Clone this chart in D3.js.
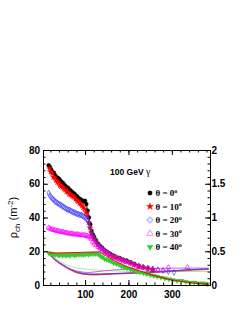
<!DOCTYPE html>
<html>
<head>
<meta charset="utf-8">
<script src="https://cdn.jsdelivr.net/npm/d3@7"></script>
<style>
  body { margin: 0; background: #fff; }
  svg { display: block; }
  .tk text { font-family: "Liberation Sans", Arial, sans-serif; font-weight: bold; font-size: 10px; fill: #000; }
</style>
</head>
<body>
<div id="root"></div>
<script>
// ---- data ----
// theta = 0 deg, black circles
const r0 = [16,19,22,25,28,31,34,37,40,43,46,49,52,55,58,61,64,67,70,73,76,79,82,85,88,91,94,97,100,103,106,109,112,115,118,121,125,130,135,140,146,152,158,165,172,180,188,196,205,214,224,234,245,256];
const rho0 = [71,70,68.5,67,66.5,65,64,63.5,63,62,61,60.5,59.5,58.5,58,57.5,56.5,56,55,54.5,54,53,52.5,51.5,51,50.5,50,49.5,50,48,44,40,36,32,30,28.5,26.5,24.5,23,22,20.5,19.5,18.5,17.5,16.5,16,15,14.5,13.5,12.5,11.5,10.5,10,9];
// theta = 10 deg, red stars
const r10 = [18,21,24,27,30,33,36,39,42,45,48,51,54,57,60,63,66,69,72,75,78,81,84,87,90,93,96,99,102,105,108,111,114,117,120,124,129,134,139,145,151,157,164,171,179,187,195,204,213,223,233,244,255];
const rho10 = [69,67,66,64,63.5,62,61,60.5,59,58.5,58,57,56.5,55.5,55,54,53.5,53,52.5,52,51,50,49.5,48.5,48,47,46,45,43,41,37,34,31,29,27.5,26,24,22.5,21.5,20,19,18,17,16.5,15.5,14.5,14,13,12,11,10.5,9.5,9];
// theta = 20 deg, blue open markers
const r20 = [16,19,22,25,28,31,34,37,40,43,46,49,52,55,58,61,64,67,70,73,76,79,82,85,88,91,94,97,100,103,106,109,112,115,118,121,125,130,135,140,146,152,158,165,172,180,188,196,205,214,224,234,245,256,268,280,292,305];
const rho20 = [54.5,53,52,51,50.5,49.5,49,48.5,48,47.5,47,46.5,46,45.5,45,44.5,44.5,44,43.5,43,43,42.5,42,42,41.5,41.5,41,40.5,40,39.5,38.5,37,34,31,29,27.5,26,24,22.5,21.5,20,19,18,17,16,15.5,14.5,14,13,12,11,10.5,10,9.5,9,8.5,8,7.5];
// theta = 30 deg, magenta open triangles
const r30 = [16,19,22,25,28,31,34,37,40,43,46,49,52,55,58,61,64,67,70,73,76,79,82,85,88,91,94,97,100,103,106,109,112,115,118,121,125,130,135,140,146,152,158,165,172,180,188,196,205,214,224,234,245,256,268,280,292,336];
const rho30 = [34,33.5,33,33,32.5,32.5,32,32,32,31.5,31.5,31.5,31,31,31,30.5,30.5,30.5,30.5,30,30,30,30,30,29.5,29.5,29.5,29.5,29.5,29,29,28.5,28,27,25.5,24.5,23.5,22.5,21.5,20.5,19.5,18.5,17.5,16.5,16,15,14.5,13.5,13,12,11,10.5,10,9.5,9,8.5,10.5,10.5];
// theta = 40 deg, green down triangles
const r40 = [16,20,24,28,32,36,40,44,48,52,56,60,64,68,72,76,80,84,88,92,96,100,104,108,112,116,120,124,128,132,136,140,145,150,155,160,166,172,178,184,190,197,204,211,218,226,234,242,250,258,266,275,284,293,302,312,322,332,342,352,362,372,382];
const rho40 = [19,18.5,18.5,18,18,18,17.5,18,17.5,18,17.5,18,17.5,18,18,17.5,18,18,18,18,18,18,18.5,18,18.5,18.5,18.5,18.5,18.5,18,17,16.5,15.5,15,14.5,14,13,12.5,12,11,10.5,10,9.5,8.5,8,7.5,7,6.5,6,5.5,5,4.5,4,3.5,3,2.5,2.5,2,1.5,1.5,1,1,0.5];

// red line over the 40 deg points
const rFit = [16,40,70,100,134,150,170,200,230,260,290,320,350,385];
const rhoFit = [19,19,19.2,19.4,19.6,17,14,10.5,8,5.5,3.5,2.2,1.2,0.3];

// fluctuation curves (right axis)
const rS = [16,22,30,40,50,60,70,80,95,110,130,160,200,250,300,350,385];
const s0 = [0.47,0.43,0.38,0.33,0.29,0.25,0.22,0.19,0.165,0.155,0.155,0.165,0.175,0.19,0.21,0.23,0.24];
const s10 = [0.46,0.42,0.37,0.32,0.28,0.24,0.21,0.18,0.16,0.15,0.15,0.16,0.17,0.18,0.2,0.22,0.23];
const s20 = [0.47,0.43,0.38,0.33,0.29,0.25,0.22,0.2,0.175,0.165,0.165,0.17,0.18,0.19,0.21,0.23,0.24];
const s30 = [0.48,0.44,0.39,0.34,0.3,0.26,0.23,0.21,0.19,0.185,0.2,0.22,0.235,0.245,0.25,0.25,0.25];
const s40 = [0.48,0.45,0.41,0.36,0.32,0.29,0.27,0.25,0.24,0.23,0.22,0.21,0.2,0.2,0.2,0.2,0.2];

const legendLabels = ['0', '10', '20', '30', '40'];

// ---- chart ----
const w = 247, h = 319;
const pLeft = 43, pRight = 210, pTop = 150, pBottom = 285;

const svg = d3.select('#root').append('svg').attr('width', w).attr('height', h);

const x = d3.scaleLinear().domain([3, 388]).range([pLeft, pRight]);
const y = d3.scaleLinear().domain([0, 80]).range([pBottom, pTop]);
const yR = d3.scaleLinear().domain([0, 2]).range([pBottom, pTop]);

const colors = ['#000000', '#ff0000', '#3b3bff', '#ff00ff', '#33cc33'];

// fluctuation lines
const sLine = d3.line().x((d, i) => x(rS[i])).y(d => yR(d));
[[s40, '#88e888'], [s0, '#222'], [s10, '#ff2020'], [s20, '#4040ff'], [s30, '#cc33dd']].forEach(([s, c]) => {
    svg.append('path').datum(s).attr('d', sLine)
        .attr('fill', 'none').attr('stroke', c).attr('stroke-width', 0.8);
});

// marker series
function sym(type, size) { return d3.symbol().type(type).size(size)(); }
const series = [
    { r: r0, v: rho0, col: colors[0], shape: sym(d3.symbolCircle, 12), fill: true },
    { r: r10, v: rho10, col: colors[1], shape: sym(d3.symbolStar, 11), fill: true },
    { r: r20, v: rho20, col: colors[2], shape: sym(d3.symbolDiamond, 10), fill: false },
    { r: r30, v: rho30, col: colors[3], shape: sym(d3.symbolTriangle, 10), fill: false },
    { r: r40, v: rho40, col: colors[4], shape: sym(d3.symbolTriangle, 11), fill: true, flip: true }
];
const legShapes = [
    sym(d3.symbolCircle, 16), sym(d3.symbolStar, 16), sym(d3.symbolCross, 18),
    sym(d3.symbolTriangle, 18), sym(d3.symbolTriangle, 16)
];
const legColors = ['#000', '#ff0000', '#9999ff', '#ff66ff', '#33cc33'];

// green band line first
const line = d3.line().x(d => x(d[0])).y(d => y(d[1]));
svg.append('path').datum(d3.zip(r40, rho40)).attr('d', line)
    .attr('fill', 'none').attr('stroke', '#44cc44').attr('stroke-width', 2.4);

series.forEach((s, k) => {
    if (k === 0) {
        svg.append('path').datum(d3.zip(s.r, s.v)).attr('d', line)
            .attr('fill', 'none').attr('stroke', '#000').attr('stroke-width', 0.8);
    }
    svg.append('g').selectAll('path')
        .data(d3.zip(s.r, s.v))
        .join('path')
        .attr('d', s.shape)
        .attr('transform', d => `translate(${x(d[0])},${y(d[1])})` + (s.flip ? ' rotate(180)' : ''))
        .attr('fill', s.fill ? s.col : 'none')
        .attr('stroke', s.col)
        .attr('stroke-width', s.fill ? 0.3 : 0.7);
});

// red line on the 40 deg points
svg.append('path').datum(d3.zip(rFit, rhoFit)).attr('d', line)
    .attr('fill', 'none').attr('stroke', '#ff0000').attr('stroke-width', 1);

// ---- axes ----
function ax(g) { g.attr('class', 'tk'); g.selectAll('line').attr('stroke', '#000'); g.select('.domain').attr('stroke', '#000'); }

svg.append('g').attr('transform', `translate(0,${pBottom})`)
    .call(d3.axisBottom(x).tickValues(d3.range(20, 388, 20)).tickSize(-2.5).tickSizeOuter(0).tickFormat(''));
svg.append('g').attr('transform', `translate(0,${pBottom})`)
    .call(d3.axisBottom(x).tickValues([100, 200, 300]).tickSize(-5).tickSizeOuter(0).tickPadding(6))
    .call(ax);
svg.append('g').attr('transform', `translate(0,${pTop})`)
    .call(d3.axisTop(x).tickValues(d3.range(20, 388, 20)).tickSize(-2.5).tickSizeOuter(0).tickFormat(''));
svg.append('g').attr('transform', `translate(0,${pTop})`)
    .call(d3.axisTop(x).tickValues([100, 200, 300]).tickSize(-5).tickSizeOuter(0).tickFormat(''));

svg.append('g').attr('transform', `translate(${pLeft},0)`)
    .call(d3.axisLeft(y).tickValues(d3.range(0, 81, 4)).tickSize(-2.5).tickSizeOuter(0).tickFormat(''));
svg.append('g').attr('transform', `translate(${pLeft},0)`)
    .call(d3.axisLeft(y).tickValues([0, 20, 40, 60, 80]).tickSize(-5).tickSizeOuter(0).tickPadding(3))
    .call(ax);

svg.append('g').attr('transform', `translate(${pRight},0)`)
    .call(d3.axisRight(yR).tickValues(d3.range(0, 2.01, 0.1)).tickSize(-2.5).tickSizeOuter(0).tickFormat(''));
svg.append('g').attr('transform', `translate(${pRight},0)`)
    .call(d3.axisRight(yR).tickValues([0, 0.5, 1, 1.5, 2]).tickSize(-5).tickSizeOuter(0).tickPadding(1.5).tickFormat(d3.format('')))
    .call(ax);

// y title
const yt = svg.append('text')
    .attr('transform', `translate(17,${(pTop + pBottom) / 2}) rotate(-90)`)
    .attr('text-anchor', 'middle')
    .style('font-family', '"Liberation Sans", Arial, sans-serif')
    .style('font-size', '11px');
yt.append('tspan').text('ρ');
yt.append('tspan').attr('dy', 3).style('font-size', '8px').text('ch');
yt.append('tspan').attr('dy', -3).text(' (m');
yt.append('tspan').attr('dy', -4).style('font-size', '8px').text('-2');
yt.append('tspan').attr('dy', 4).text(')');

// title
const tt = svg.append('text').attr('x', 110).attr('y', 175)
    .style('font-family', '"Liberation Sans", Arial, sans-serif')
    .style('font-weight', 'bold').style('font-size', '8.5px');
tt.append('tspan').text('100 GeV ');
tt.append('tspan').style('font-family', '"Liberation Serif", serif').style('font-weight', 'normal').style('font-size', '10px').text('γ');

// legend
const legY = [193, 206.5, 220, 233.5, 247];
series.forEach((s, k) => {
    svg.append('path').attr('d', legShapes[k])
        .attr('transform', `translate(150,${legY[k]})` + (s.flip ? ' rotate(180)' : ''))
        .attr('fill', s.fill ? legColors[k] : 'none')
        .attr('stroke', legColors[k]).attr('stroke-width', s.fill ? 0.3 : 0.8);
    const t = svg.append('text').attr('x', 155.5).attr('y', legY[k] + 3.2)
        .style('font-family', '"Liberation Serif", "Times New Roman", serif')
        .style('font-weight', 'bold').style('font-size', '9px');
    t.append('tspan').text('θ = ' + legendLabels[k]);
    t.append('tspan').attr('dy', -3.5).style('font-size', '6px').text('o');
});
</script>
</body>
</html>
